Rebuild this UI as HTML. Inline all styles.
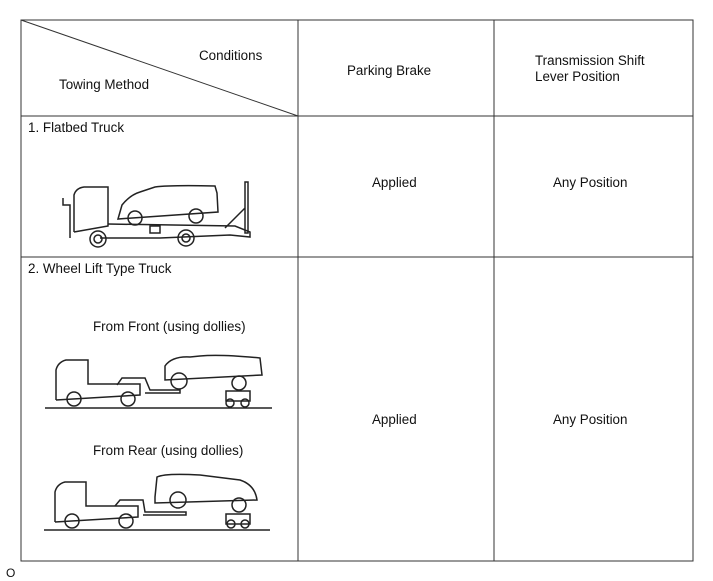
<!DOCTYPE html>
<html><head><meta charset="utf-8"><style>
body{margin:0;width:713px;height:581px;background:#fff;position:relative;font-family:"Liberation Sans",Arial,sans-serif;font-size:13.4px;color:#111;overflow:hidden}
.t{position:absolute;white-space:nowrap}
</style></head><body>
<svg width="713" height="581" style="position:absolute;left:0;top:0" fill="none" stroke="#222">
<g stroke="#333" stroke-width="1">
<rect x="21" y="20" width="672" height="541"/>
<line x1="298" y1="20" x2="298" y2="561"/>
<line x1="494" y1="20" x2="494" y2="561"/>
<line x1="21" y1="116" x2="693" y2="116"/>
<line x1="21" y1="257" x2="693" y2="257"/>
<line x1="21" y1="20" x2="298" y2="116"/>
</g>
<g stroke-width="1.5">
<path d="M70 238 L70 205 L63 205 L63 198 M74 232 L74 195 Q76 188 84 187 L108 187 L108 226 L74 232"/>
<path d="M108 224 L235 226 L250 232 L250 237 L230 235 L160 238 L100 238"/>
<path d="M245 182 L248 182 L248 233 L245 233 Z M245 208 L225 228"/>
<path d="M118 219 L122 205 Q130 195 140 192 L155 187 Q170 185 215 186 L217 193 L218 212 L118 219Z"/>
<circle cx="98" cy="239" r="8"/><circle cx="98" cy="239" r="4"/>
<circle cx="186" cy="238" r="8"/><circle cx="186" cy="238" r="4"/>
<circle cx="135" cy="218" r="7"/><circle cx="196" cy="216" r="7"/>
<rect x="150" y="226" width="10" height="7"/>
</g>
<g stroke-width="1.5">
<line x1="45" y1="408" x2="272" y2="408"/>
<path d="M56 400 L56 370 Q58 362 66 360 L88 360 L88 384 L140 384 L140 395 L56 400"/>
<path d="M117 385 L122 378 L145 378 L150 390 L180 390 L180 393 L145 393"/>
<circle cx="74" cy="399" r="7"/><circle cx="128" cy="399" r="7"/>
<path d="M165 376 L165 366 Q172 356 190 357 L200 356 Q220 354 260 358 L262 375 L165 380Z"/>
<circle cx="179" cy="381" r="8"/><circle cx="239" cy="383" r="7"/>
<rect x="226" y="391" width="24" height="10"/><circle cx="230" cy="403" r="4"/><circle cx="245" cy="403" r="4"/>
</g>
<g stroke-width="1.5">
<line x1="44" y1="530" x2="270" y2="530"/>
<path d="M55 522 L55 492 Q57 484 65 482 L86 482 L86 506 L138 506 L138 517 L55 522"/>
<path d="M115 506 L120 500 L143 500 L145 512 L186 512 L186 515 L143 515"/>
<circle cx="72" cy="521" r="7"/><circle cx="126" cy="521" r="7"/>
<path d="M155 497 L157 477 Q165 473 200 475 L240 480 Q255 485 257 500 L155 503Z"/>
<circle cx="178" cy="500" r="8"/><circle cx="239" cy="505" r="7"/>
<rect x="226" y="514" width="24" height="10"/><circle cx="231" cy="524" r="4"/><circle cx="245" cy="524" r="4"/>
</g>
</svg>
<div class="t" style="left:199px;top:48px">Conditions</div>
<div class="t" style="left:59px;top:77px">Towing Method</div>
<div class="t" style="left:347px;top:63px">Parking Brake</div>
<div class="t" style="left:535px;top:53px;line-height:16px">Transmission Shift<br>Lever Position</div>
<div class="t" style="left:28px;top:120px">1. Flatbed Truck</div>
<div class="t" style="left:372px;top:175px">Applied</div>
<div class="t" style="left:553px;top:175px">Any Position</div>
<div class="t" style="left:28px;top:261px">2. Wheel Lift Type Truck</div>
<div class="t" style="left:93px;top:319px">From Front (using dollies)</div>
<div class="t" style="left:93px;top:443px">From Rear (using dollies)</div>
<div class="t" style="left:372px;top:412px">Applied</div>
<div class="t" style="left:553px;top:412px">Any Position</div>
<div class="t" style="left:6px;top:566px;font-size:12px">O</div>
</body></html>
